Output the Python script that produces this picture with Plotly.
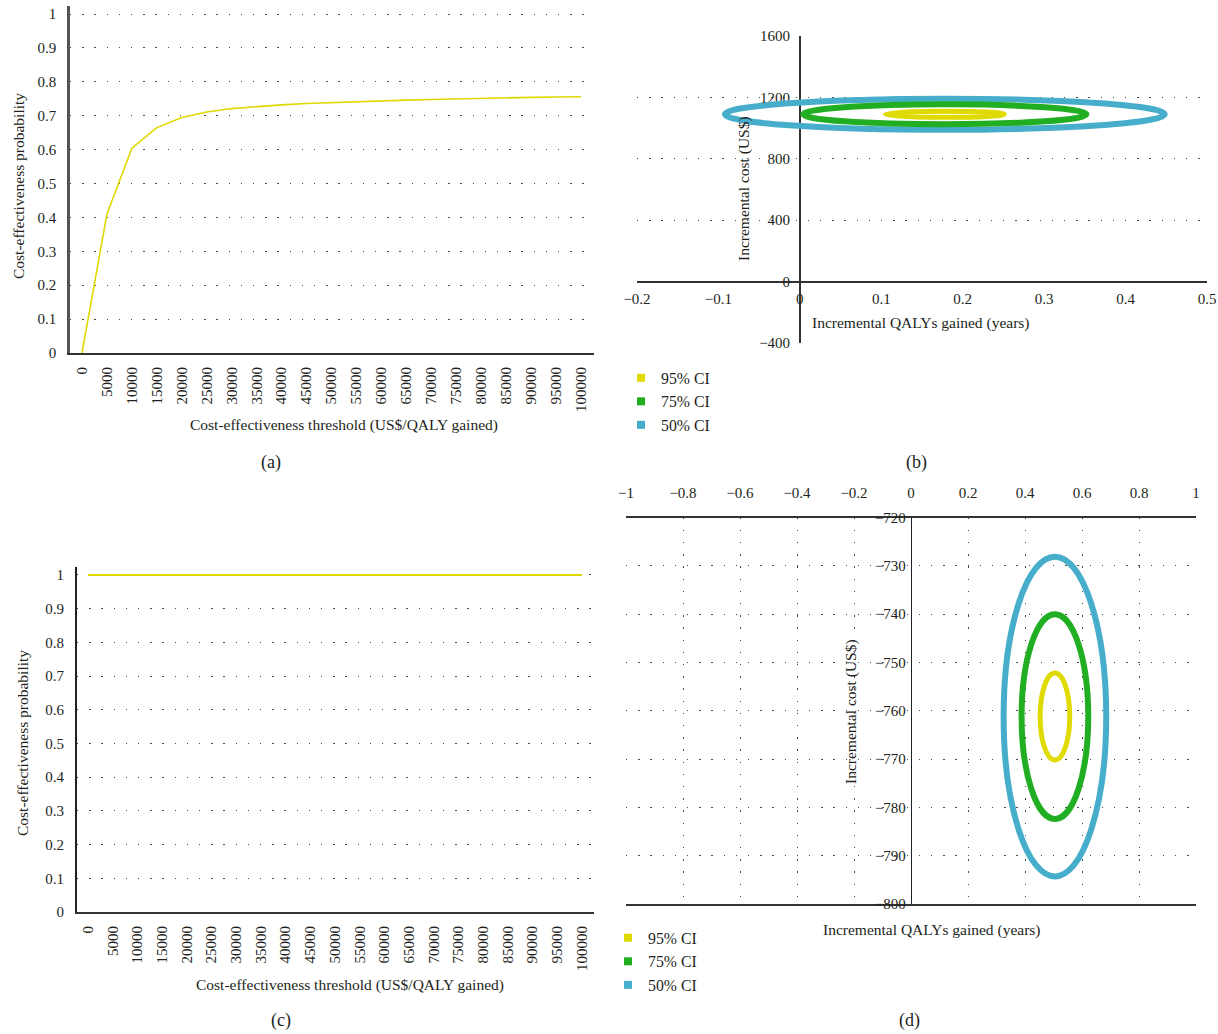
import plotly.graph_objects as go

W, H = 1218, 1034
FONT = "Liberation Serif"
TXT = "#231f20"

# ---------------- data ----------------
thresholds = [0, 5000, 10000, 15000, 20000, 25000, 30000, 35000, 40000, 45000, 50000,
              55000, 60000, 65000, 70000, 75000, 80000, 85000, 90000, 95000, 100000]
threshold_labels = [str(t) for t in thresholds]
prob_a = [0.0, 0.41, 0.604, 0.665, 0.695, 0.711, 0.721, 0.727, 0.732, 0.736, 0.739,
          0.742, 0.744, 0.746, 0.748, 0.750, 0.751, 0.752, 0.754, 0.755, 0.756]
prob_c = [1.0, 1.0, 1.0, 1.0, 1.0, 1.0, 1.0, 1.0, 1.0, 1.0, 1.0,
          1.0, 1.0, 1.0, 1.0, 1.0, 1.0, 1.0, 1.0, 1.0, 1.0]
prob_ticks = [0, 0.1, 0.2, 0.3, 0.4, 0.5, 0.6, 0.7, 0.8, 0.9, 1]
prob_ticklabels = ["0", "0.1", "0.2", "0.3", "0.4", "0.5", "0.6", "0.7", "0.8", "0.9", "1"]

ci_labels = ["95% CI", "75% CI", "50% CI"]
ci_colors = ["#dfda00", "#22ae22", "#46aecb"]
ci_widths = [5, 6, 6]

# panel (b) confidence ellipses
b_center_qaly = 0.178
b_center_cost = 1090
b_semi_qaly = [0.073, 0.174, 0.270]
b_semi_cost = [20, 65, 101]

# panel (d) confidence ellipses
d_center_qaly = 0.505
d_center_cost = -761.2
d_semi_qaly = [0.052, 0.117, 0.180]
d_semi_cost = [9.0, 21.2, 33.1]

# ---------------- layout helpers ----------------
def px_x(x):
    return x / W

def px_y(y):
    return 1 - y / H

DOTS = "1.4px,10.8px"
GRIDC = "#4a4a4a"

fig = go.Figure()

# (a) acceptability curve
fig.add_trace(go.Scatter(x=thresholds, y=prob_a, mode="lines",
                         line=dict(color="#e0d800", width=1.6),
                         xaxis="x", yaxis="y", showlegend=False))
# (c) acceptability curve
fig.add_trace(go.Scatter(x=thresholds, y=prob_c, mode="lines",
                         line=dict(color="#e0d800", width=2),
                         xaxis="x3", yaxis="y3", showlegend=False))

# legend entries for (b) and (d)
for lab, col in zip(ci_labels, ci_colors):
    fig.add_trace(go.Scatter(x=[None], y=[None], mode="markers", name=lab,
                             marker=dict(symbol="square", size=8, color=col),
                             xaxis="x2", yaxis="y2", legend="legend"))
for lab, col in zip(ci_labels, ci_colors):
    fig.add_trace(go.Scatter(x=[None], y=[None], mode="markers", name=lab,
                             marker=dict(symbol="square", size=8, color=col),
                             xaxis="x4", yaxis="y4", legend="legend2"))

shapes = []
for a, b, col, w in reversed(list(zip(b_semi_qaly, b_semi_cost, ci_colors, ci_widths))):
    shapes.append(dict(type="circle", xref="x2", yref="y2",
                       x0=b_center_qaly - a, x1=b_center_qaly + a,
                       y0=b_center_cost - b, y1=b_center_cost + b,
                       line=dict(color=col, width=w)))
for a, b, col, w in reversed(list(zip(d_semi_qaly, d_semi_cost, ci_colors, ci_widths))):
    shapes.append(dict(type="circle", xref="x4", yref="y4",
                       x0=d_center_qaly - a, x1=d_center_qaly + a,
                       y0=d_center_cost - b, y1=d_center_cost + b,
                       line=dict(color=col, width=w)))

tickfont = dict(family=FONT, size=15, color=TXT)

# domains (reference pixel positions)
a_xdom = [px_x(70), px_x(594)]
a_ydom = [px_y(353), px_y(6)]
c_xdom = [px_x(77), px_x(594)]
c_ydom = [px_y(912), px_y(567)]
b_xdom = [px_x(637), px_x(1207)]
b_ydom = [px_y(343), px_y(36)]
d_xdom = [px_x(626), px_x(1196)]
d_ydom = [px_y(904), px_y(517.5)]

b_xr = [-0.2, 0.5]
b_yr = [-400, 1600]
d_xr = [-1, 1]
d_yr = [-800, -720]

def frac_pos(dom, rng, v):
    return dom[0] + (v - rng[0]) / (rng[1] - rng[0]) * (dom[1] - dom[0])

common = dict(tickfont=tickfont, zeroline=False, ticks="", automargin=False,
              ticklabeloverflow="allow")

layout = dict(
    width=W, height=H,
    margin=dict(l=0, r=0, t=0, b=0, pad=0, autoexpand=False),
    paper_bgcolor="white", plot_bgcolor="white",
    font=dict(family=FONT, color=TXT),
    shapes=shapes,
    # (a)
    xaxis=dict(domain=a_xdom, range=[-2405, 102605], anchor="y",
               tickmode="array", tickvals=thresholds, ticktext=threshold_labels,
               tickangle=-90, showgrid=False,
               showline=True, linecolor="#333333", linewidth=2,
               ticklabelstandoff=6, **common),
    yaxis=dict(domain=a_ydom, range=[0, 1.0236], anchor="x",
               tickmode="array", tickvals=prob_ticks, ticktext=prob_ticklabels,
               showgrid=True, gridcolor=GRIDC, griddash=DOTS,
               gridwidth=1.4, showline=True, linecolor="#555555",
               linewidth=2.5, ticklabelstandoff=8, **common),
    # (c)
    xaxis3=dict(domain=c_xdom, range=[-2227, 102429], anchor="y3",
                tickmode="array", tickvals=thresholds, ticktext=threshold_labels,
                tickangle=-90, showgrid=False,
                showline=True, linecolor="#333333", linewidth=2,
                ticklabelstandoff=6, **common),
    yaxis3=dict(domain=c_ydom, range=[0, 1.0237], anchor="x3",
                tickmode="array", tickvals=prob_ticks, ticktext=prob_ticklabels,
                showgrid=True, gridcolor=GRIDC, griddash=DOTS,
                gridwidth=1.4, showline=True, linecolor="#222222",
                linewidth=2, ticklabelstandoff=8, **common),
    # (b)
    xaxis2=dict(domain=b_xdom, range=b_xr, anchor="free",
                position=frac_pos(b_ydom, b_yr, 0),
                tickmode="array", tickvals=[-0.2, -0.1, 0, 0.1, 0.2, 0.3, 0.4, 0.5],
                showgrid=False,
                showline=True, linecolor="#333333", linewidth=1.5,
                ticklabelstandoff=4, **common),
    yaxis2=dict(domain=b_ydom, range=b_yr, anchor="free",
                position=frac_pos(b_xdom, b_xr, 0),
                tickmode="array", tickvals=[-400, 0, 400, 800, 1200, 1600],
                showgrid=True, gridcolor=GRIDC, griddash=DOTS,
                gridwidth=1.4, showline=True, linecolor="#333333",
                linewidth=1.5, ticklabelstandoff=6, **common),
    # (d)
    xaxis4=dict(domain=d_xdom, range=d_xr, anchor="y4", side="top",
                tickmode="array", tickvals=[-1, -0.8, -0.6, -0.4, -0.2, 0, 0.2, 0.4, 0.6, 0.8, 1],
                showgrid=True, gridcolor=GRIDC, griddash=DOTS,
                gridwidth=1.4, showline=True, mirror=True,
                linecolor="#333333", linewidth=2, ticklabelstandoff=12, **common),
    yaxis4=dict(domain=d_ydom, range=d_yr, anchor="free",
                position=frac_pos(d_xdom, d_xr, 0),
                tickmode="array", tickvals=[-800, -790, -780, -770, -760, -750, -740, -730, -720],
                showgrid=True, gridcolor=GRIDC, griddash=DOTS,
                gridwidth=1.4, showline=True, linecolor="#222222",
                linewidth=1.3, ticklabelstandoff=2, **common),
    legend=dict(x=px_x(621), y=px_y(361), xanchor="left", yanchor="top",
                font=dict(family=FONT, size=15.8, color=TXT),
                bgcolor="rgba(0,0,0,0)", tracegroupgap=0, itemwidth=30),
    legend2=dict(x=px_x(608), y=px_y(921), xanchor="left", yanchor="top",
                 font=dict(family=FONT, size=15.8, color=TXT),
                 bgcolor="rgba(0,0,0,0)", tracegroupgap=0, itemwidth=30),
)

titlefont = dict(family=FONT, size=15.5, color=TXT)
capfont = dict(family=FONT, size=18, color=TXT)
annotations = [
    dict(text="Cost-effectiveness threshold (US$/QALY gained)", x=px_x(344), y=px_y(425)),
    dict(text="Cost-effectiveness probability", x=px_x(18), y=px_y(186), textangle=-90),
    dict(text="Incremental QALYs gained (years)", x=px_x(921), y=px_y(323)),
    dict(text="Incremental cost (US$)", x=px_x(744), y=px_y(189), textangle=-90),
    dict(text="Cost-effectiveness threshold (US$/QALY gained)", x=px_x(350), y=px_y(985)),
    dict(text="Cost-effectiveness probability", x=px_x(22), y=px_y(743), textangle=-90),
    dict(text="Incremental QALYs gained (years)", x=px_x(932), y=px_y(930)),
    dict(text="Incremental cost (US$)", x=px_x(851), y=px_y(712), textangle=-90),
]
for an in annotations:
    an.update(xref="paper", yref="paper", showarrow=False, font=titlefont,
              xanchor="center", yanchor="middle")
captions = [("(a)", 271, 462), ("(b)", 916, 462), ("(c)", 281, 1020), ("(d)", 909, 1020)]
for t, cx, cy in captions:
    annotations.append(dict(text=t, x=px_x(cx), y=px_y(cy), xref="paper", yref="paper",
                            showarrow=False, font=capfont, xanchor="center", yanchor="middle"))
layout["annotations"] = annotations

fig.update_layout(**layout)
# remove the browser's default 8px body margin so the figure fills the window
fig.write_html("out.html", config={"displayModeBar": False},
               post_script="document.body.style.margin='0';document.body.style.overflow='hidden';")
